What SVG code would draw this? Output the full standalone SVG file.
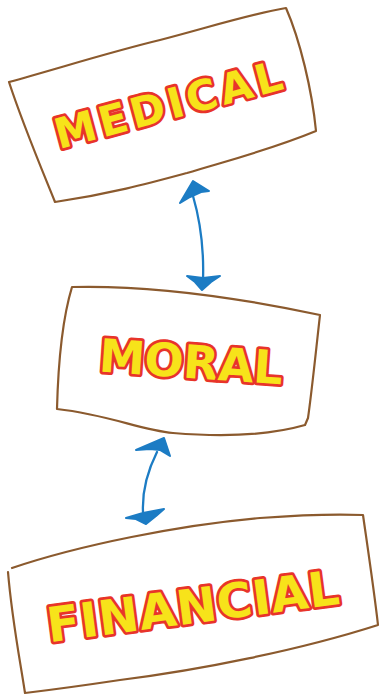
<svg xmlns="http://www.w3.org/2000/svg" width="381" height="696" viewBox="0 0 381 696">
<style>
.box{fill:none;stroke:#8b5a2e;stroke-width:2.2;stroke-linecap:round;stroke-linejoin:round}
.lbl{font-family:"DejaVu Sans",sans-serif;font-weight:bold;fill:#f7e31a;stroke:#e8342a;stroke-width:5.5;paint-order:stroke;stroke-linejoin:round;text-anchor:middle}
.link{fill:none;stroke:#1c7cc4;stroke-width:2.3;stroke-linecap:round}
.head{fill:#1c7cc4;stroke:#1c7cc4;stroke-width:2;stroke-linejoin:round}
</style>
<rect width="381" height="696" fill="#ffffff"/>
<g id="medical">
<path class="box" d="M9,82 C60,68 110,52 160,40 C210,27 250,14 286,8 C300,40 312,90 316,131 C270,150 230,160 187,173 C150,183 110,194 55,202 C38,160 22,122 9,82 Z"/>
<text class="lbl" font-size="42" textLength="234" lengthAdjust="spacing" transform="translate(172,119) rotate(-15)">MEDICAL</text>
</g>
<g id="moral">
<path class="box" d="M72,287 C150,285 240,298 320,315 C316,350 312,390 308,418 L305,425 C260,438 210,436 173,433 C140,430 110,415 57,409 C58,370 62,320 72,287 Z"/>
<text class="lbl" font-size="46" textLength="184" lengthAdjust="spacing" transform="translate(190,378) rotate(4)">MORAL</text>
</g>
<g id="financial">
<path class="box" d="M12,568 C80,545 180,525 260,518 C300,515 340,514 363,515 C368,550 374,590 378,625 C300,650 200,670 120,680 C80,686 50,690 25,693 C20,660 12,620 8,572"/>
<text class="lbl" font-size="48" textLength="294" lengthAdjust="spacing" transform="translate(195,623) rotate(-7.5)">FINANCIAL</text>
</g>
<g id="connectors">
<path class="link" d="M193,196 C200,220 204,250 203,280"/>
<path class="head" d="M193,181 L209,191 L201,192 L190,197 L180,203 Z"/>
<path class="head" d="M187,276 L203,278 L220,276 L211,282 L202,290 L195,282 Z"/>
<path class="link" d="M157,452 C148,470 142,490 143,512"/>
<path class="head" d="M164,438 L170,456 L160,450 L150,449 L136,450 Z"/>
<path class="head" d="M126,518 L143,513 L164,509 L156,516 L146,524 L136,519 Z"/>
</g>
</svg>
